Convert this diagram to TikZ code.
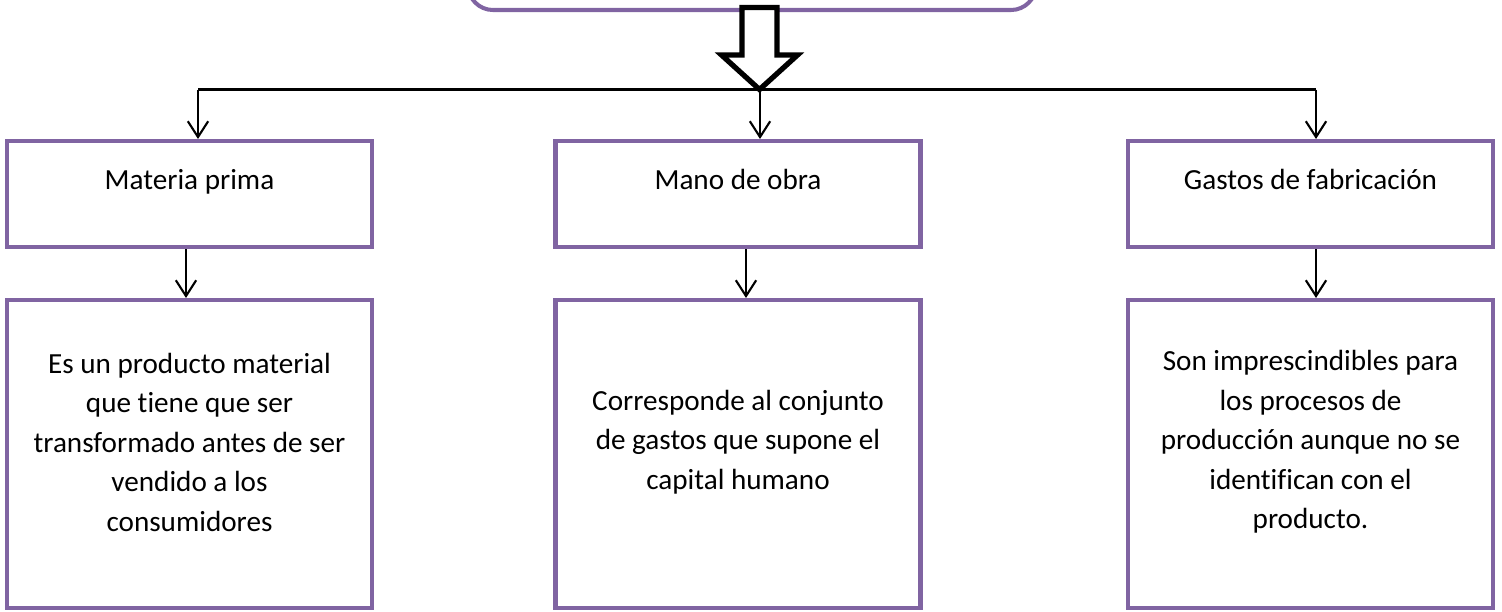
\documentclass[tikz,border=0pt]{standalone}
\usepackage{fontspec}
\setmainfont{Carlito}[Ligatures=NoCommon]
\usetikzlibrary{arrows.meta}
\definecolor{boxpurple}{HTML}{8064A2}

\begin{document}
\begin{tikzpicture}[font=\fontsize{8.3}{11.24}\selectfont,
  cbox/.style={draw=boxpurple,line width=1.15pt,minimum width=3.65cm,inner sep=0pt},
  headbox/.style={cbox,minimum height=1.06cm,text height=0.2cm,text depth=0.3cm},
  descbox/.style={cbox,minimum height=3.08cm},
  desctext/.style={align=center},
  link/.style={line width=0.6pt,-{Straight Barb[length=4.5pt,width=5.8pt]}}]
\useasboundingbox (0,0) rectangle (15.02,-6.11);
\node[draw=boxpurple,line width=1.15pt,rounded corners=0.25cm,minimum width=5.68cm,minimum height=1cm] (top) at (7.52,0.40) {};
\draw[line width=1.5pt,line join=miter,fill=white] (7.42,-0.075) -- (7.77,-0.075) -- (7.77,-0.55) -- (7.975,-0.55) -- (7.595,-0.895) -- (7.215,-0.55) -- (7.42,-0.55) -- cycle;
\coordinate (sl) at (1.98,-0.895);
\coordinate (sm) at (7.60,-0.895);
\coordinate (sr) at (13.16,-0.895);
\draw[line width=0.6pt] (sl) -- (sr);
\node[headbox] (mp) at (1.895,-1.94) {Materia prima};
\node[headbox] (mo) at (7.38,-1.94) {Mano de obra};
\node[headbox] (gf) at (13.105,-1.94) {Gastos de fabricación};
\node[descbox] (mpd) at (1.895,-4.54) {};
\node[descbox] (mod) at (7.38,-4.54) {};
\node[descbox] (gfd) at (13.105,-4.54) {};
\node[desctext] (mpt) at ([yshift=0.12cm]mpd.center) {Es un producto material\\que tiene que ser\\transformado antes de ser\\vendido a los\\consumidores};
\node[desctext] (mot) at ([yshift=0.12cm]mod.center) {Corresponde al conjunto\\de gastos que supone el\\capital humano};
\node[desctext] (gft) at ([yshift=0.12cm]gfd.center) {Son imprescindibles para\\los procesos de\\producción aunque no se\\identifican con el\\producto.};
\draw[link] (sl) -- (sl |- mp.north);
\draw[link] (sm) -- (sm |- mo.north);
\draw[link] (sr) -- (sr |- gf.north);
\draw[link] ([xshift=-0.035cm]mp.south) -- ([xshift=-0.035cm]mpd.north);
\draw[link] ([xshift=0.08cm]mo.south) -- ([xshift=0.08cm]mod.north);
\draw[link] ([xshift=0.055cm]gf.south) -- ([xshift=0.055cm]gfd.north);
\end{tikzpicture}
\end{document}
